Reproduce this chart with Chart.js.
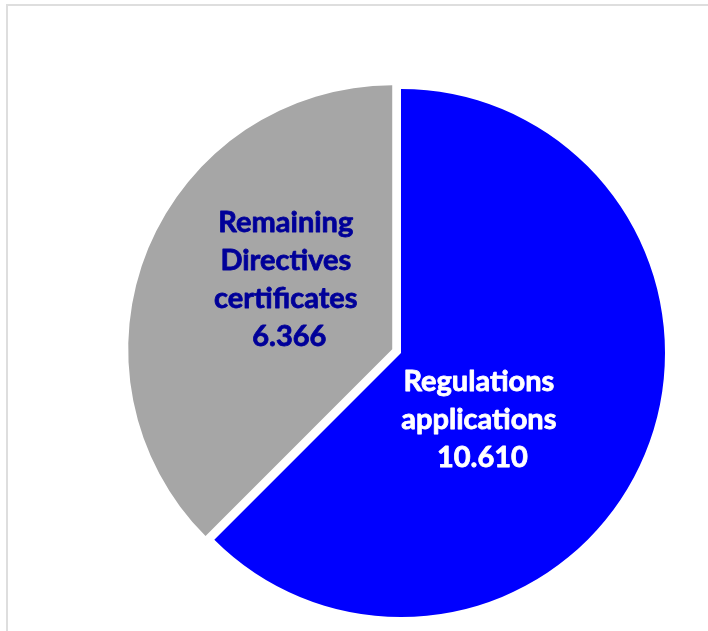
<!DOCTYPE html>
<html>
<head>
<meta charset="utf-8">
<script src="https://cdn.jsdelivr.net/npm/chart.js@4/dist/chart.umd.min.js"></script>
<style>
	html, body { margin: 0; padding: 0; background: #fff; overflow: hidden; }
	#frame {
		position: absolute; left: 6px; top: 4px; width: 720px; height: 640px;
		border-left: 2px solid #dedede; border-top: 2px solid #dedede;
	}
	#wrap { position: absolute; left: 0; top: 0; width: 708px; height: 631px; }
</style>
</head>
<body>
<div id="frame"></div>
<div id="wrap"><canvas id="myChart" width="708" height="631"></canvas></div>
<script>
var categories = [['Regulations', 'applications'], ['Remaining', 'Directives', 'certificates']];
var values = [10610, 6366];
var colors = ['#0000FF', '#A6A6A6'];
var labelColors = ['#FFFFFF', '#000099'];
var explode = [0, 9.5];

function formatValue (v) {
	return String(v).replace(/\B(?=(\d{3})+(?!\d))/g, '.');
}

// label anchor as a fraction of the radius from each slice's own centre
var labelAnchor = [[0.295, 0.25], [-0.403, -0.265]];

// pull slices out from the centre (chart.js offset also grows the radius)
var explodeSlices = {
	id: 'explodeSlices',
	beforeDatasetsDraw: function (chart) {
		var area = chart.chartArea;
		var cx = (area.left + area.right) / 2;
		var cy = (area.top + area.bottom) / 2;
		chart.getDatasetMeta(0).data.forEach(function (arc, i) {
			var mid = (arc.startAngle + arc.endAngle) / 2;
			arc.x = cx + Math.cos(mid) * explode[i];
			arc.y = cy + Math.sin(mid) * explode[i];
		});
	}
};

var sliceLabels = {
	id: 'sliceLabels',
	afterDatasetsDraw: function (chart) {
		var ctx = chart.ctx;
		var arcs = chart.getDatasetMeta(0).data;
		ctx.save();
		ctx.font = 'bold 29px Lato';
		ctx.textAlign = 'center';
		ctx.textBaseline = 'alphabetic';
		ctx.lineWidth = 0.8;
		ctx.lineJoin = 'round';
		arcs.forEach(function (arc, i) {
			var r = arc.outerRadius;
			var x = arc.x + labelAnchor[i][0] * r;
			var y = arc.y + labelAnchor[i][1] * r;
			var lines = categories[i].concat([' ' + formatValue(values[i])]);
			var lh = 38;
			var top = y - (lines.length - 1) * lh / 2 + 10;
			ctx.fillStyle = labelColors[i];
			ctx.strokeStyle = labelColors[i];
			lines.forEach(function (line, j) {
				ctx.fillText(line, x, top + j * lh);
				ctx.strokeText(line, x, top + j * lh);
			});
		});
		ctx.restore();
	}
};

var ctx = document.getElementById('myChart');
window.myPie = new Chart(ctx, {
	type: 'pie',
	data: {
		labels: categories.map(function (c) { return c.join(' '); }),
		datasets: [{
			data: values,
			backgroundColor: colors,
			borderWidth: 0
		}]
	},
	options: {
		responsive: false,
		animation: false,
		radius: 264,
		layout: { padding: { left: 94, right: 0, top: 75, bottom: 0 } },
		plugins: {
			legend: { display: false },
			tooltip: { enabled: false }
		}
	},
	plugins: [explodeSlices, sliceLabels]
});
</script>
</body>
</html>
